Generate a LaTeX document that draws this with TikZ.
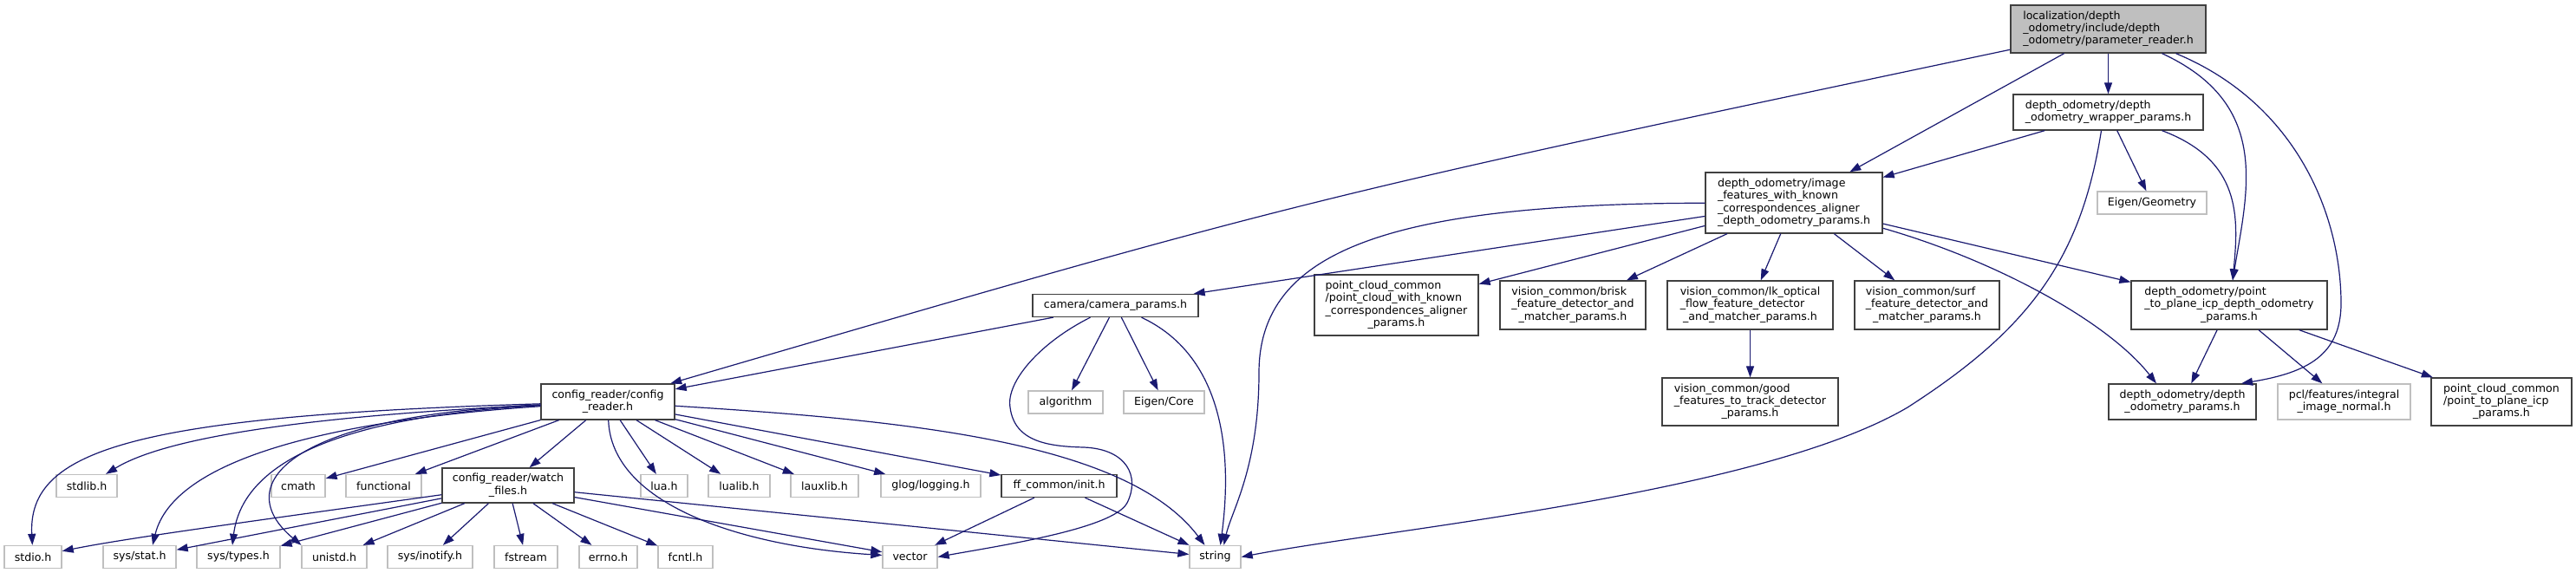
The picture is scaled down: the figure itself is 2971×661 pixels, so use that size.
\documentclass[tikz,border=0pt]{standalone}
\usepackage{fontspec}
\setmainfont{DejaVu Sans}
\usetikzlibrary{arrows.meta}
\definecolor{dxedge}{HTML}{191970}
\definecolor{dxframe}{HTML}{404040}
\definecolor{dxgray}{HTML}{BFBFBF}
% left-aligned lines, last line centred
\newcommand{\flab}[2]{\begin{tabular}{@{}l@{}}#1\\\multicolumn{1}{@{}c@{}}{#2}\end{tabular}}

\begin{document}
\begin{tikzpicture}[
  x=1pt, y=-1pt,
  every node/.style={font=\fontsize{12.6}{14.3}\selectfont, inner sep=0pt},
  sz/.style 2 args={minimum width=#1pt, minimum height=#2pt},
  hdr/.style={draw=dxframe, fill=white, line width=1.3pt},
  sys/.style={draw=dxgray, fill=white, line width=1.3pt},
  mainhdr/.style={draw=dxframe, fill=dxgray, line width=1.3pt},
  dep/.style={-{Triangle[length=13pt,width=9pt]}, draw=dxedge, line width=1.2pt}
]
\fill[white] (0,0) rectangle (2971,661);
\useasboundingbox (0,0) rectangle (2971,661);

% upper part
\node[mainhdr, sz={225}{55}] (main) at (2431.5,33.5) {\flab{localization/depth\\\_odometry/include/depth}{\_odometry/parameter\_reader.h}};
\node[hdr, sz={219}{41}] (wrapper) at (2431.5,129.5) {\flab{depth\_odometry/depth}{\_odometry\_wrapper\_params.h}};
\node[hdr, sz={204}{70}] (imgfeat) at (2069,234) {\flab{depth\_odometry/image\\\_features\_with\_known\\\_correspondences\_aligner}{\_depth\_odometry\_params.h}};
\node[sys, sz={126}{26}] (eigengeom) at (2482,234) {Eigen/Geometry};
\node[hdr, sz={191}{26}] (camera) at (1286.5,352.5) {camera/camera\_params.h};
\node[hdr, sz={189}{70}] (pcknown) at (1610.5,352) {\flab{point\_cloud\_common\\/point\_cloud\_with\_known\\\_correspondences\_aligner}{\_params.h}};
\node[hdr, sz={168}{56}] (brisk) at (1814,352) {\flab{vision\_common/brisk\\\_feature\_detector\_and}{\_matcher\_params.h}};
\node[hdr, sz={191}{56}] (lkflow) at (2018.5,352) {\flab{vision\_common/lk\_optical\\\_flow\_feature\_detector}{\_and\_matcher\_params.h}};
\node[hdr, sz={167}{56}] (surf) at (2222.5,352) {\flab{vision\_common/surf\\\_feature\_detector\_and}{\_matcher\_params.h}};
\node[hdr, sz={226}{56}] (ptplane) at (2571,352) {\flab{depth\_odometry/point\\\_to\_plane\_icp\_depth\_odometry}{\_params.h}};
\node[hdr, sz={203}{55}] (goodfeat) at (2018.5,463.5) {\flab{vision\_common/good\\\_features\_to\_track\_detector}{\_params.h}};
\node[hdr, sz={170}{41}] (odomparams) at (2517,463.5) {\flab{depth\_odometry/depth}{\_odometry\_params.h}};
\node[sys, sz={153}{41}] (integral) at (2703.5,463.5) {\flab{pcl/features/integral}{\_image\_normal.h}};
\node[hdr, sz={162}{55}] (icpparams) at (2885,463.5) {\flab{point\_cloud\_common\\/point\_to\_plane\_icp}{\_params.h}};
\node[hdr, sz={154}{41}] (cfg) at (701,463.5) {\flab{config\_reader/config}{\_reader.h}};
\node[sys, sz={86}{26}] (algorithm) at (1229,464) {algorithm};
\node[sys, sz={93}{26}] (eigencore) at (1342.5,464) {Eigen/Core};

% middle row
\node[sys, sz={70}{26}] (stdlib) at (100,560.5) {stdlib.h};
\node[sys, sz={62}{26}] (cmath) at (344,560.5) {cmath};
\node[sys, sz={87}{26}] (functional) at (442.5,560.5) {functional};
\node[hdr, sz={152}{40}] (watch) at (586,560) {\flab{config\_reader/watch}{\_files.h}};
\node[sys, sz={54}{26}] (lua) at (766,560.5) {lua.h};
\node[sys, sz={71}{26}] (lualib) at (852.5,560.5) {lualib.h};
\node[sys, sz={78}{26}] (lauxlib) at (951,560.5) {lauxlib.h};
\node[sys, sz={115}{26}] (glog) at (1073.5,560.5) {glog/logging.h};
\node[hdr, sz={133}{26}] (ffinit) at (1221.5,560.5) {ff\_common/init.h};

% bottom row
\node[sys, sz={66}{26}] (stdio) at (38,642.5) {stdio.h};
\node[sys, sz={84}{26}] (sysstat) at (161,642.5) {sys/stat.h};
\node[sys, sz={96}{26}] (systypes) at (275,642.5) {sys/types.h};
\node[sys, sz={75}{26}] (unistd) at (385.5,642.5) {unistd.h};
\node[sys, sz={98}{26}] (inotify) at (496,642.5) {sys/inotify.h};
\node[sys, sz={73}{26}] (fstream) at (606.5,642.5) {fstream};
\node[sys, sz={67}{26}] (errno) at (701.5,642.5) {errno.h};
\node[sys, sz={63}{26}] (fcntl) at (790.5,642.5) {fcntl.h};
\node[sys, sz={63}{26}] (vector) at (1049.5,642.5) {vector};
\node[sys, sz={59}{26}] (string) at (1401.5,642.5) {string};

% from the main header
\draw[dep] (main) .. controls (1500,230) .. (cfg);
\draw[dep] (main) -- (imgfeat);
\draw[dep] (main) -- (wrapper);
\draw[dep] ([xshift=62pt]main.south) .. controls (2620,120) and (2592,220) .. ([xshift=4pt]ptplane.north);
\draw[dep] ([xshift=78pt]main.south) .. controls (2650,120) and (2700,250) .. (2700,350)
  .. controls (2700,410) and (2660,430) .. ([xshift=68pt]odomparams.north);

% wrapper params
\draw[dep] (wrapper) -- (imgfeat);
\draw[dep] (wrapper) -- (eigengeom);
\draw[dep] ([xshift=62pt]wrapper.south) .. controls (2585,185) and (2582,250) .. ([xshift=4pt]ptplane.north);
\draw[dep] ([xshift=-8pt]wrapper.south) .. controls (2400,300) and (2340,380) .. (2200,470)
  .. controls (2030,570) and (1600,610) .. (string.east);

% image features
\draw[dep] (imgfeat) -- (camera);
\draw[dep] (imgfeat) -- (pcknown);
\draw[dep] (imgfeat) -- (brisk);
\draw[dep] (imgfeat) -- (lkflow);
\draw[dep] (imgfeat) -- (surf);
\draw[dep] (imgfeat) -- (ptplane);
\draw[dep] (imgfeat) .. controls (2300,300) and (2430,370) .. ([xshift=-30pt]odomparams.north);
\draw[dep] (imgfeat) .. controls (1600,235) and (1452,290) .. (1452,430)
  .. controls (1452,540) and (1420,590) .. ([xshift=10pt]string.north);
\draw[dep] (lkflow) -- (goodfeat);

% point to plane
\draw[dep] (ptplane) -- (odomparams);
\draw[dep] (ptplane) -- (integral);
\draw[dep] (ptplane) -- (icpparams);

% camera params
\draw[dep] (camera) -- (cfg);
\draw[dep] (camera) -- (algorithm);
\draw[dep] (camera) -- (eigencore);
\draw[dep] ([xshift=30pt]camera.south) .. controls (1410,410) and (1422,520) .. ([xshift=6pt]string.north);
\draw[dep] ([xshift=-29pt]camera.south) .. controls (1200,395) and (1160,440) .. (1165,470)
  .. controls (1170,510) and (1210,515) .. (1250,516)
  .. controls (1300,518) and (1315,550) .. (1300,580)
  .. controls (1285,610) and (1150,630) .. (vector.east);

% config reader
\draw[dep] (cfg) .. controls (150,480) and (32,520) .. (stdio);
\draw[dep] (cfg) .. controls (350,480) and (190,505) .. (stdlib);
\draw[dep] (cfg) .. controls (380,485) and (200,530) .. ([xshift=15pt]sysstat.north);
\draw[dep] (cfg) .. controls (400,480) and (280,530) .. ([xshift=-7pt]systypes.north);
\draw[dep] (cfg) .. controls (330,480) and (265,560) .. ([xshift=-38pt]unistd.north);
\draw[dep] (cfg) -- (cmath);
\draw[dep] (cfg) -- (functional);
\draw[dep] (cfg) -- (watch);
\draw[dep] (cfg) .. controls (705,580) and (850,630) .. (vector);
\draw[dep] (cfg) -- (lua);
\draw[dep] (cfg) -- (lualib);
\draw[dep] (cfg) -- (lauxlib);
\draw[dep] (cfg) -- (glog);
\draw[dep] (cfg) -- (ffinit);
\draw[dep] (cfg) .. controls (1050,485) and (1300,510) .. ([xshift=-12pt]string.north);

% watch files
\draw[dep] (watch) .. controls (300,600) and (150,620) .. (stdio);
\draw[dep] (watch) -- (sysstat);
\draw[dep] (watch) -- (systypes);
\draw[dep] (watch) -- (unistd);
\draw[dep] (watch) -- (inotify);
\draw[dep] (watch) -- (fstream);
\draw[dep] (watch) -- (errno);
\draw[dep] (watch) -- (fcntl);
\draw[dep] (watch) -- (vector);
\draw[dep] (watch) -- (string);

% ff common
\draw[dep] (ffinit) -- (vector);
\draw[dep] (ffinit) -- (string);
\end{tikzpicture}
\end{document}
